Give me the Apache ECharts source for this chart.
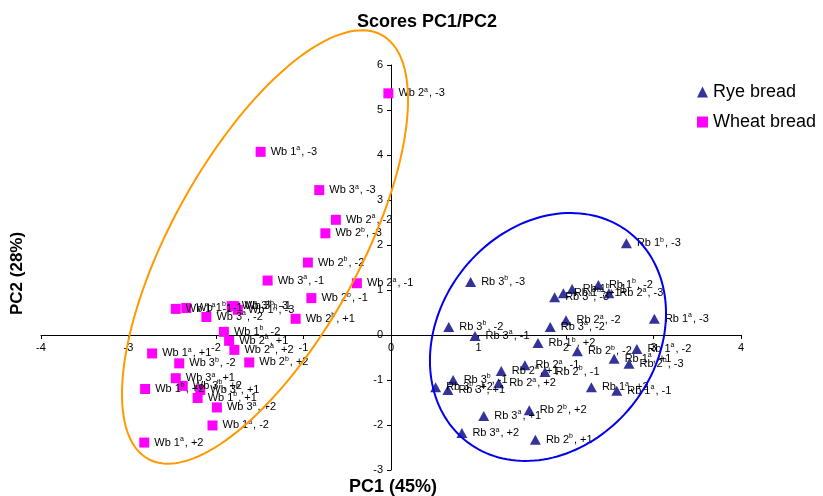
<!DOCTYPE html>
<html>
<head>
<meta charset="utf-8">
<script src="https://cdn.jsdelivr.net/npm/echarts@6/dist/echarts.min.js"></script>
<style>
  html, body { margin: 0; padding: 0; background: #fff; }
  #chart { width: 823px; height: 496px; }
</style>
</head>
<body>
<div id="chart"></div>
<script>
// PCA score plot: PC1 vs PC2 for rye and wheat bread samples

const wheatNames = [
  'Wb 2a, -3', 'Wb 1a, -3', 'Wb 3a, -3', 'Wb 2a, -2', 'Wb 2b, -3', 'Wb 2b, -2',
  'Wb 3a, -1', 'Wb 2a, -1', 'Wb 2b, -1', 'Wb 2b, +1', 'Wb 3a, -2', 'Wb 1a, -1',
  'Wb 1b, -1', 'Wb 3b, -3', 'Wb 3b, -1', 'Wb 1b, -3', 'Wb 1b, -2', 'Wb 2a, +1',
  'Wb 2a, +2', 'Wb 2b, +2', 'Wb 1a, +1', 'Wb 3b, -2', 'Wb 3a, +1', 'Wb 3b, +2',
  'Wb 1b, +2', 'Wb 3b, +1', 'Wb 1b, +1', 'Wb 3a, +2', 'Wb 1a, -2', 'Wb 1a, +2'
];
const wheatPC1 = [
  -0.03, -1.49, -0.82, -0.63, -0.75, -0.95,
  -1.41, -0.39, -0.91, -1.09, -2.11, -2.46,
  -2.34, -1.82, -1.79, -1.75, -1.91, -1.85,
  -1.79, -1.62, -2.73, -2.42, -2.46, -2.38,
  -2.81, -2.18, -2.21, -1.99, -2.04, -2.82
];
const wheatPC2 = [
  5.37, 4.07, 3.22, 2.56, 2.26, 1.61,
  1.21, 1.15, 0.82, 0.36, 0.40, 0.58,
  0.60, 0.64, 0.64, 0.56, 0.07, -0.13,
  -0.33, -0.61, -0.41, -0.63, -0.96, -1.13,
  -1.20, -1.22, -1.40, -1.61, -2.01, -2.39
];

const ryeNames = [
  'Rb 1b, -3', 'Rb 1a, -3', 'Rb 3b, -3', 'Rb 3a, -3', 'Rb 1b, +1', 'Rb 1b, -1',
  'Rb 1b, -2', 'Rb 2a, -3', 'Rb 2a, -2', 'Rb 3b, -2', 'Rb 3a, -2', 'Rb 3a, -1',
  'Rb 1b, +2', 'Rb 2b, -2', 'Rb 1a, -2', 'Rb 1a, +1', 'Rb 2b, -3', 'Rb 2a, -1',
  'Rb 2a, +1', 'Rb 2b, -1', 'Rb 3b, -1', 'Rb 2a, +2', 'Rb 3b, +2', 'Rb 3b, +1',
  'Rb 1a, +2', 'Rb 1a, -1', 'Rb 2b, +2', 'Rb 3a, +1', 'Rb 3a, +2', 'Rb 2b, +1'
];
const ryePC1 = [
  2.69, 3.01, 0.91, 1.87, 1.97, 2.07,
  2.37, 2.49, 2.00, 0.66, 1.82, 0.96,
  1.68, 2.13, 2.81, 2.55, 2.72, 1.53,
  1.26, 1.76, 0.71, 1.23, 0.51, 0.65,
  2.29, 2.58, 1.58, 1.06, 0.81, 1.65
];
const ryePC2 = [
  2.04, 0.36, 1.18, 0.84, 0.93, 1.02,
  1.11, 0.93, 0.33, 0.18, 0.18, -0.02,
  -0.18, -0.36, -0.31, -0.53, -0.64, -0.67,
  -0.80, -0.82, -1.00, -1.07, -1.16, -1.22,
  -1.16, -1.24, -1.67, -1.80, -2.18, -2.33
];

// Group outlines (centre and two conjugate half-axes, in score units)
const wheatEllipse = { cx: -1.44, cy: 1.956, ux: 1.33, uy: 4.715, vx: 0.950, vy: -0.978 };
const ryeEllipse   = { cx: 1.794, cy: -0.044, ux: 1.349, uy: 0.527, vx: 0.0, vy: -2.704 };

const FONT = '"Liberation Sans", Arial, sans-serif';

function pairs(xs, ys, names) {
  return xs.map((x, i) => [x, ys[i], names[i]]);
}

// "Wb 1a, -3" -> "Wb 1" + superscript "a" + ", -3"
function richName(name) {
  const m = name.match(/^(\w+ \d)([ab])(, .+)$/);
  if (!m) return '{n|' + name + '}';
  return '{n|' + m[1] + '}{s|' + m[2] + '}{n|' + m[3] + '}';
}

function ellipseRenderer(e, color) {
  return function (params, api) {
    const pts = [];
    const n = 160;
    for (let i = 0; i <= n; i++) {
      const t = (i / n) * Math.PI * 2;
      const x = e.cx + e.ux * Math.cos(t) + e.vx * Math.sin(t);
      const y = e.cy + e.uy * Math.cos(t) + e.vy * Math.sin(t);
      pts.push(api.coord([x, y]));
    }
    return {
      type: 'polyline',
      shape: { points: pts },
      style: { stroke: color, lineWidth: 2, fill: null }
    };
  };
}

const pointLabel = {
  show: true,
  position: 'right',
  distance: 5,
  color: '#000',
  fontFamily: FONT,
  formatter: p => richName(p.data[2]),
  rich: {
    n: { fontSize: 11, fontFamily: FONT, color: '#000', lineHeight: 14 },
    s: { fontSize: 7, fontFamily: FONT, color: '#000', lineHeight: 14, verticalAlign: 'top', padding: [0, 1, 5, 0] }
  }
};

// Grid geometry: axes cross at the origin, so shift them in from the grid edges
const GRID = { left: 41, right: 82, top: 65, bottom: 26 };
const X_RANGE = [-4, 4];
const Y_RANGE = [-3, 6];
const plotW = 823 - GRID.left - GRID.right;
const plotH = 496 - GRID.top - GRID.bottom;
const xAxisOffset = -plotH * (0 - Y_RANGE[0]) / (Y_RANGE[1] - Y_RANGE[0]);
const yAxisOffset = -plotW * (0 - X_RANGE[0]) / (X_RANGE[1] - X_RANGE[0]);

const chart = echarts.init(document.getElementById('chart'), null, { renderer: 'canvas' });

chart.setOption({
  animation: false,
  backgroundColor: '#fff',
  textStyle: { fontFamily: FONT },
  title: {
    text: 'Scores PC1/PC2',
    left: 352,
    top: 8,
    textStyle: { fontSize: 18, fontWeight: 'bold', color: '#000', fontFamily: FONT }
  },
  legend: {
    orient: 'vertical',
    left: 692,
    top: 78,
    itemWidth: 11,
    itemHeight: 11,
    itemGap: 12,
    data: [
      { name: 'Rye bread', icon: 'triangle' },
      { name: 'Wheat bread', icon: 'rect' }
    ],
    textStyle: { fontSize: 18, color: '#000', fontFamily: FONT }
  },
  grid: { left: GRID.left, right: GRID.right, top: GRID.top, bottom: GRID.bottom, containLabel: false },
  xAxis: {
    type: 'value',
    min: X_RANGE[0], max: X_RANGE[1], interval: 1,
    position: 'bottom',
    offset: xAxisOffset,
    splitLine: { show: false },
    axisLine: { onZero: false, lineStyle: { color: '#000', width: 1 } },
    axisTick: { show: true, length: 4, lineStyle: { color: '#000' } },
    axisLabel: { color: '#000', fontSize: 11, margin: 7, fontFamily: FONT }
  },
  yAxis: {
    type: 'value',
    min: Y_RANGE[0], max: Y_RANGE[1], interval: 1,
    position: 'left',
    offset: yAxisOffset,
    splitLine: { show: false },
    axisLine: { onZero: false, lineStyle: { color: '#000', width: 1 } },
    axisTick: { show: true, length: 4, lineStyle: { color: '#000' } },
    axisLabel: { color: '#000', fontSize: 11, margin: 8, fontFamily: FONT }
  },
  graphic: [
    {
      type: 'text',
      left: 349, top: 478,
      style: { text: 'PC1 (45%)', fill: '#000', font: 'bold 18px ' + FONT }
    },
    {
      type: 'text',
      x: 9, y: 315,
      rotation: Math.PI / 2,
      style: { text: 'PC2 (28%)', fill: '#000', font: 'bold 17px ' + FONT }
    }
  ],
  series: [
    {
      name: 'Rye bread',
      type: 'scatter',
      symbol: 'triangle',
      symbolSize: [11, 10],
      itemStyle: { color: '#333399', opacity: 1 },
      data: pairs(ryePC1, ryePC2, ryeNames),
      label: pointLabel,
      z: 3
    },
    {
      name: 'Wheat bread',
      type: 'scatter',
      symbol: 'rect',
      symbolSize: 10,
      itemStyle: { color: '#ff00ff', opacity: 1 },
      data: pairs(wheatPC1, wheatPC2, wheatNames),
      label: pointLabel,
      z: 3
    },
    {
      type: 'custom',
      silent: true,
      clip: false,
      renderItem: ellipseRenderer(wheatEllipse, '#ff9900'),
      data: [[0, 0]],
      z: 4
    },
    {
      type: 'custom',
      silent: true,
      clip: false,
      renderItem: ellipseRenderer(ryeEllipse, '#0000ee'),
      data: [[0, 0]],
      z: 4
    }
  ]
});
</script>
</body>
</html>
